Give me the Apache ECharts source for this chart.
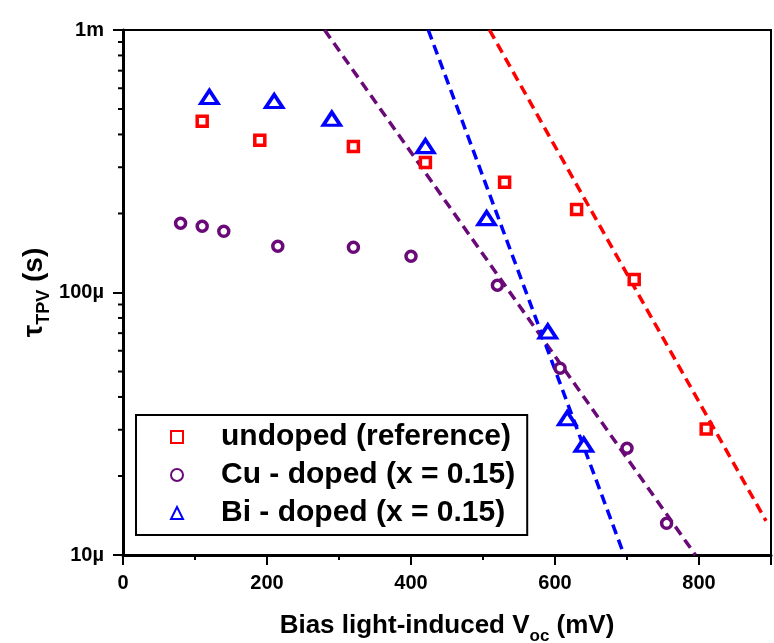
<!DOCTYPE html>
<html>
<head>
<meta charset="utf-8">
<script src="https://cdn.jsdelivr.net/npm/echarts/dist/echarts.min.js"></script>
<style>
html,body{margin:0;padding:0;background:#fff;}
#chart{width:774px;height:643px;}
</style>
</head>
<body>
<div id="chart"></div>
<script>
// ---- data ----
const undopedX = [110, 190, 320, 420, 530, 630, 710, 810];
const undopedY = [4.49e-4, 3.80e-4, 3.60e-4, 3.13e-4, 2.63e-4, 2.07e-4, 1.12e-4, 3.02e-5];
const cuX = [80, 110, 140, 215, 320, 400, 520, 607, 700, 755];
const cuY = [1.835e-4, 1.787e-4, 1.71e-4, 1.50e-4, 1.486e-4, 1.374e-4, 1.066e-4, 5.15e-5, 2.55e-5, 1.32e-5];
const biX = [120, 210, 290, 420, 505, 590, 617, 640];
const biY = [5.56e-4, 5.36e-4, 4.59e-4, 3.61e-4, 1.92e-4, 7.1e-5, 3.32e-5, 2.63e-5];

const fitUndopedX = [509, 893];
const fitUndopedY = [1e-3, 1.35e-5];
const fitCuX = [280, 795];
const fitCuY = [1e-3, 1e-5];
const fitBiX = [424, 696];
const fitBiY = [1e-3, 1e-5];

const seriesNames = ['undoped (reference)', 'Cu - doped (x = 0.15)', 'Bi - doped (x = 0.15)'];
const yTickValues = [1e-5, 1e-4, 1e-3];
const yTickLabels = ['10µ', '100µ', '1m'];
const xTickLabelsHidden = [900];
const yMinorTickValues = [2e-5, 3e-5, 4e-5, 5e-5, 6e-5, 7e-5, 8e-5, 9e-5, 2e-4, 3e-4, 4e-4, 5e-4, 6e-4, 7e-4, 8e-4, 9e-4];

const RED = '#ff0000', PURPLE = '#6a0a78', BLUE = '#0000ff';
const FONT = '"Liberation Sans", Arial, sans-serif';

function zip(xs, ys) { return xs.map((x, i) => [x, ys[i]]); }

const chart = echarts.init(document.getElementById('chart'), null, {renderer: 'canvas'});

const option = {
  animation: false,
  backgroundColor: '#ffffff',
  grid: {
    left: 123, right: 3, top: 30, bottom: 88,
    containLabel: false, outerBoundsMode: 'none',
    show: true, borderColor: '#000', borderWidth: 2, backgroundColor: 'transparent'
  },
  legend: {
    orient: 'vertical',
    left: 136, top: 415,
    data: seriesNames,
    borderColor: '#000', borderWidth: 2,
    padding: [7, 12, 7, 34],
    itemWidth: 12, itemHeight: 12, itemGap: 8,
    formatter: name => '{g|}' + name,
    textStyle: {
      fontFamily: FONT, fontWeight: 'bold', fontSize: 30, color: '#000', lineHeight: 30,
      rich: { g: { width: 33 } }
    }
  },
  xAxis: {
    type: 'value', min: 0, max: 900, interval: 200,
    name: '{m|Bias light-induced V}{s|oc}{m| (mV)}',
    nameLocation: 'middle', nameGap: 58, nameMoveOverlap: false,
    nameTextStyle: {
      rich: {
        m: {fontFamily: FONT, fontWeight: 'bold', fontSize: 26, lineHeight: 26, verticalAlign: 'top', color: '#000'},
        s: {fontFamily: FONT, fontWeight: 'bold', fontSize: 17, lineHeight: 32, verticalAlign: 'bottom', color: '#000'}
      }
    },
    axisLine: {show: true, onZero: false, lineStyle: {color: '#000', width: 3}},
    axisTick: {show: true, inside: false, length: 10, lineStyle: {color: '#000', width: 2}},
    minorTick: {show: true, splitNumber: 2, length: 5, lineStyle: {color: '#000', width: 2}},
    splitLine: {show: false},
    axisLabel: {
      margin: 18, fontFamily: FONT, fontWeight: 'bold', fontSize: 20, color: '#000',
      formatter: v => (xTickLabelsHidden.indexOf(v) >= 0 ? '' : String(v))
    }
  },
  yAxis: {
    type: 'log', logBase: 10, min: 1e-5, max: 1e-3,
    name: '{m|τ}{s|TPV}{m| (s)}',
    nameLocation: 'middle', nameGap: 70, nameRotate: 90, nameMoveOverlap: false,
    nameTextStyle: {
      rich: {
        m: {fontFamily: FONT, fontWeight: 'bold', fontSize: 28, lineHeight: 28, verticalAlign: 'top', color: '#000'},
        s: {fontFamily: FONT, fontWeight: 'bold', fontSize: 18, lineHeight: 33, verticalAlign: 'bottom', color: '#000'}
      }
    },
    axisLine: {show: true, onZero: false, lineStyle: {color: '#000', width: 3}},
    axisTick: {show: true, inside: false, length: 10, lineStyle: {color: '#000', width: 2}},
    splitLine: {show: false},
    axisLabel: {
      margin: 19, fontFamily: FONT, fontWeight: 'bold', fontSize: 20, color: '#000',
      formatter: function (v) {
        for (let i = 0; i < yTickValues.length; i++) {
          if (Math.abs(Math.log10(v) - Math.log10(yTickValues[i])) < 1e-6) return yTickLabels[i];
        }
        return '';
      }
    }
  },
  series: [
    {
      name: 'fitUndoped', type: 'line', data: zip(fitUndopedX, fitUndopedY),
      showSymbol: false, symbol: 'none', silent: true, z: 2,
      lineStyle: {color: RED, width: 3.5, type: [10, 6]}
    },
    {
      name: 'fitCu', type: 'line', data: zip(fitCuX, fitCuY),
      showSymbol: false, symbol: 'none', silent: true, z: 2,
      lineStyle: {color: PURPLE, width: 3.5, type: [10, 6]}
    },
    {
      name: 'fitBi', type: 'line', data: zip(fitBiX, fitBiY),
      showSymbol: false, symbol: 'none', silent: true, z: 2,
      lineStyle: {color: BLUE, width: 3.5, type: [10, 6]}
    },
    {
      name: seriesNames[0], type: 'scatter', data: zip(undopedX, undopedY),
      symbol: 'rect', symbolSize: 10, z: 3,
      itemStyle: {color: '#ffffff', borderColor: RED, borderWidth: 3.5, opacity: 1}
    },
    {
      name: seriesNames[1], type: 'scatter', data: zip(cuX, cuY),
      symbol: 'circle', symbolSize: 10, z: 3,
      itemStyle: {color: '#ffffff', borderColor: PURPLE, borderWidth: 3.5, opacity: 1}
    },
    {
      name: seriesNames[2], type: 'scatter', data: zip(biX, biY),
      symbol: 'triangle', symbolSize: [17, 13], z: 3,
      itemStyle: {color: '#ffffff', borderColor: BLUE, borderWidth: 3.5, opacity: 1}
    },
    {
      name: 'yMinorTicks', type: 'custom', silent: true, clip: false, z: 5,
      data: yMinorTickValues.map(v => [0, v]),
      renderItem: function (params, api) {
        const p = api.coord([api.value(0), api.value(1)]);
        return {
          type: 'line',
          shape: {x1: p[0] - 5, y1: p[1], x2: p[0], y2: p[1]},
          style: {stroke: '#000', lineWidth: 2}
        };
      }
    }
  ]
};
chart.setOption(option);
</script>
</body>
</html>
